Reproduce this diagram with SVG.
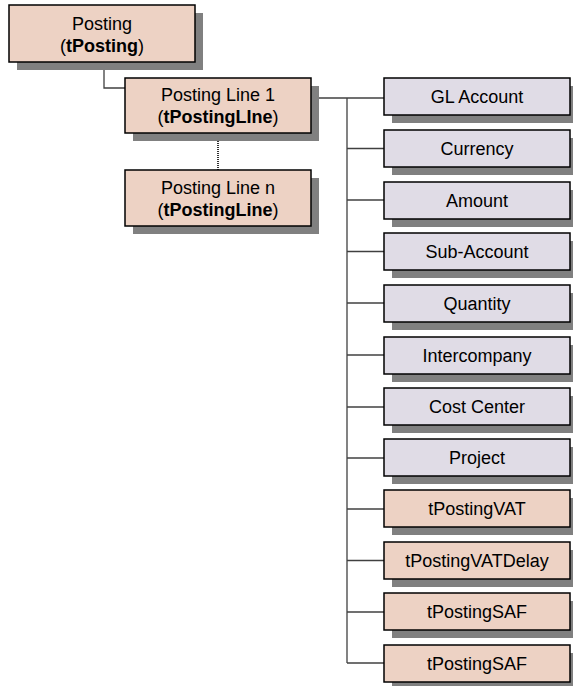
<svg xmlns="http://www.w3.org/2000/svg" width="573" height="686" viewBox="0 0 573 686">
<defs>
<style>
.sh{fill:#808080}
.pk{fill:#EDD2C4;stroke:#000;stroke-width:1.5}
.lv{fill:#E0DCE6;stroke:#000;stroke-width:1.5}
text{font-family:"Liberation Sans",Arial,sans-serif;font-size:18px;fill:#000;text-anchor:middle}
.b{font-weight:bold}
.c{fill:none;stroke:#404040;stroke-width:1.3}
.d{fill:none;stroke:#000;stroke-width:1.6;stroke-dasharray:1,1}
</style>
</defs>
<rect width="573" height="686" fill="#fff"/>
<g id="connectors">
<polyline class="c" points="104,62 104,88 125,88"/>
<line class="d" x1="218" y1="133" x2="218" y2="170"/>
<line class="c" x1="311" y1="98" x2="384" y2="98"/>
<line class="c" x1="347" y1="98" x2="347" y2="663"/>
<line class="c" x1="347" y1="148.5" x2="384" y2="148.5"/>
<line class="c" x1="347" y1="200" x2="384" y2="200"/>
<line class="c" x1="347" y1="251.5" x2="384" y2="251.5"/>
<line class="c" x1="347" y1="303" x2="384" y2="303"/>
<line class="c" x1="347" y1="355" x2="384" y2="355"/>
<line class="c" x1="347" y1="407" x2="384" y2="407"/>
<line class="c" x1="347" y1="458" x2="384" y2="458"/>
<line class="c" x1="347" y1="509" x2="384" y2="509"/>
<line class="c" x1="347" y1="560.5" x2="384" y2="560.5"/>
<line class="c" x1="347" y1="612" x2="384" y2="612"/>
<line class="c" x1="347" y1="663" x2="384" y2="663"/>
</g>
<g id="posting">
<rect class="sh" x="17" y="13" width="186" height="57"/>
<rect class="pk" x="9" y="5" width="186" height="57"/>
<text x="102" y="30">Posting</text>
<text x="102" y="52">(<tspan class="b">tPosting</tspan>)</text>
</g>
<g id="postingLine1">
<rect class="sh" x="133" y="86" width="186" height="55"/>
<rect class="pk" x="125" y="78" width="186" height="55"/>
<text x="218" y="101">Posting Line 1</text>
<text x="218" y="123">(<tspan class="b">tPostingLIne</tspan>)</text>
</g>
<g id="postingLineN">
<rect class="sh" x="133" y="178" width="186" height="56"/>
<rect class="pk" x="125" y="170" width="186" height="56"/>
<text x="218" y="194">Posting Line n</text>
<text x="218" y="216">(<tspan class="b">tPostingLine</tspan>)</text>
</g>
<g id="glAccount">
<rect class="sh" x="392" y="86" width="186" height="37"/>
<rect class="lv" x="384" y="78" width="186" height="37"/>
<text x="477" y="103">GL Account</text>
</g>
<g id="currency">
<rect class="sh" x="392" y="138" width="186" height="37"/>
<rect class="lv" x="384" y="130" width="186" height="37"/>
<text x="477" y="155">Currency</text>
</g>
<g id="amount">
<rect class="sh" x="392" y="190" width="186" height="37"/>
<rect class="lv" x="384" y="182" width="186" height="37"/>
<text x="477" y="207">Amount</text>
</g>
<g id="subAccount">
<rect class="sh" x="392" y="241" width="186" height="37"/>
<rect class="lv" x="384" y="233" width="186" height="37"/>
<text x="477" y="258">Sub-Account</text>
</g>
<g id="quantity">
<rect class="sh" x="392" y="293" width="186" height="37"/>
<rect class="lv" x="384" y="285" width="186" height="37"/>
<text x="477" y="310">Quantity</text>
</g>
<g id="intercompany">
<rect class="sh" x="392" y="345" width="186" height="37"/>
<rect class="lv" x="384" y="337" width="186" height="37"/>
<text x="477" y="362">Intercompany</text>
</g>
<g id="costCenter">
<rect class="sh" x="392" y="396" width="186" height="37"/>
<rect class="lv" x="384" y="388" width="186" height="37"/>
<text x="477" y="413">Cost Center</text>
</g>
<g id="project">
<rect class="sh" x="392" y="447" width="186" height="37"/>
<rect class="lv" x="384" y="439" width="186" height="37"/>
<text x="477" y="464">Project</text>
</g>
<g id="tPostingVAT">
<rect class="sh" x="392" y="498" width="186" height="37"/>
<rect class="pk" x="384" y="490" width="186" height="37"/>
<text x="477" y="515">tPostingVAT</text>
</g>
<g id="tPostingVATDelay">
<rect class="sh" x="392" y="550" width="186" height="37"/>
<rect class="pk" x="384" y="542" width="186" height="37"/>
<text x="477" y="567">tPostingVATDelay</text>
</g>
<g id="tPostingSAF1">
<rect class="sh" x="392" y="601" width="186" height="37"/>
<rect class="pk" x="384" y="593" width="186" height="37"/>
<text x="477" y="618">tPostingSAF</text>
</g>
<g id="tPostingSAF2">
<rect class="sh" x="392" y="653" width="186" height="37"/>
<rect class="pk" x="384" y="645" width="186" height="37"/>
<text x="477" y="670">tPostingSAF</text>
</g>
</svg>
